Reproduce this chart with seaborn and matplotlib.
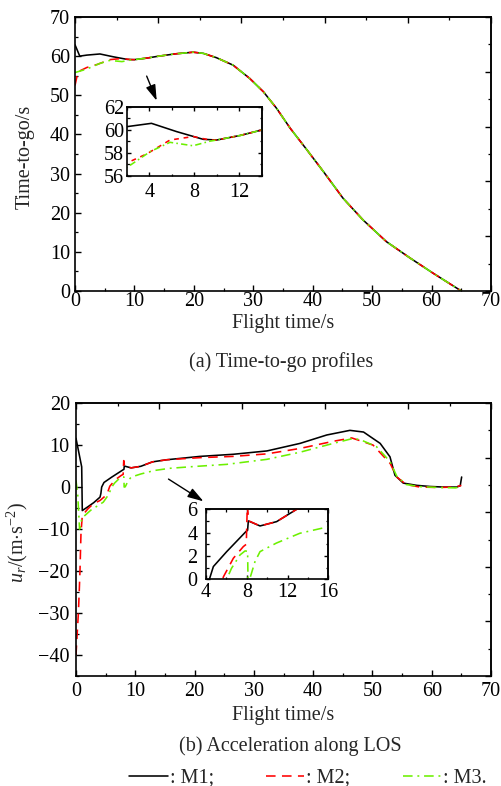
import matplotlib
matplotlib.use("Agg")
import matplotlib.pyplot as plt
import seaborn as sns
import numpy as np
import pandas as pd
from matplotlib.ticker import MultipleLocator, FixedLocator, NullFormatter
from matplotlib.lines import Line2D

# ---------------- data: (a) time-to-go ----------------
tgo_tail_t = [10, 12.1, 14, 17, 19.9, 21.6, 23.8, 26.6, 29.4, 31.7, 33.9, 36.2,
              39.0, 41.8, 45.1, 48.5, 52.4, 56.4, 60.3, 65.0]
tgo_tail_v = [59.1, 59.5, 59.97, 60.6, 61.0, 60.7, 59.6, 57.7, 54.3, 50.9, 46.7, 41.6,
              36.1, 30.5, 23.7, 18.1, 12.6, 8.4, 4.5, 0.0]
tgo_m1_head_t = [0, 0.8, 2, 4.2, 6.44, 8.8]
tgo_m1_head_v = [62.9, 60.0, 60.26, 60.55, 59.83, 59.16]
tgo_m2_head_t = [0, 0.5, 2, 3.8, 5.85, 7.9, 9.4]
tgo_m2_head_v = [52.5, 56.0, 57.1, 57.9, 59.1, 59.4, 59.1]
tgo_m3_head_t = [0, 2, 4.1, 5.85, 7.9, 9.4]
tgo_m3_head_v = [55.8, 56.7, 58.1, 58.9, 58.6, 59.0]

# ---------------- data: (b) acceleration along LOS ----------------
acc_m1_t = [0, 0.96, 1.06, 2.0, 3.0, 4.05, 4.2, 4.33, 4.72, 6.03, 7.92, 8.08, 8.15,
            9.3, 10.93, 12.9, 15.3, 20.9, 26.5, 32.2, 37.8, 42.3, 46.2, 48.5, 51.3,
            52.96, 53.8, 55.2, 57.5, 59.7, 62, 64.2, 64.8, 65.05]
acc_m1_v = [11.6, 4.8, -5.6, -4.7, -3.7, -2.4, -1.5, 0.0, 1.09, 2.37, 4.09, 4.2, 5.0,
            4.57, 4.94, 6.0, 6.5, 7.3, 7.8, 8.6, 10.4, 12.4, 13.5, 13.1, 10.4,
            7.2, 2.8, 0.94, 0.4, 0.14, 0.0, 0.0, 0.3, 2.4]
acc_m2_t = [0, 0.4, 0.55, 0.67, 0.84, 1.06, 2.0, 2.9, 4.05, 5.2, 5.7, 6.68, 7.66, 7.95,
            8.05, 8.2, 9.3, 10.93, 12.9, 15.3, 20.9, 26.5, 32.2, 37.8, 43.4, 46.5,
            50.1, 53.0, 54.1, 55.7, 58, 61, 64, 65]
acc_m2_v = [-40, -30, -24.7, -20, -11, -6.8, -5.2, -4.0, -3.2, -1.8, 0.2, 1.8, 2.8, 3.0,
            6.3, 5.0, 4.57, 4.94, 6.0, 6.5, 7.0, 7.3, 7.9, 9.2, 10.9, 11.7,
            10.0, 5.6, 2.4, 0.6, 0.0, -0.1, 0.0, 0.4]
acc_m3_t = [0, 0.3, 0.6, 1.0, 2.5, 4.6, 5.5, 6.03, 6.5, 7.34, 7.83, 8.08, 8.12, 8.3,
            8.8, 9.3, 10.9, 13.2, 15.8, 20, 25.4, 32.2, 37.8, 43.4, 46.8, 48.1, 50.7,
            53, 54.1, 55.7, 58, 61, 64, 65]
acc_m3_v = [1.6, -2.0, -10.0, -7.4, -5.5, -3.6, -1.8, 0.0, 0.94, 2.09, 2.43, 2.4, 0.0, 0.05,
            1.5, 2.37, 3.1, 3.94, 4.46, 4.9, 5.4, 6.6, 8.3, 10.4, 11.6, 11.2, 9.6,
            6.0, 2.6, 0.6, 0.1, -0.1, -0.2, 0.1]

labels = [": M1;", ": M2;", ": M3."]
caption_a = "(a) Time-to-go profiles"
caption_b = "(b) Acceleration along LOS"

# ---------------- style ----------------
sns.set_theme(style="ticks")
plt.rcParams["font.family"] = ["Liberation Serif", "DejaVu Serif"]
plt.rcParams["mathtext.fontset"] = "custom"
plt.rcParams["mathtext.rm"] = "Liberation Serif"
plt.rcParams["mathtext.it"] = "Liberation Serif:italic"
FS = 14.5
LW = 1.15
C1, C2, C3 = "black", "#ff0000", "#6cf000"
DASH2 = (6, 4)
DASH3 = (6, 3, 1.2, 3)

fig = plt.figure(figsize=(5.02, 7.86), dpi=100)
fig.patch.set_facecolor("white")

m1_tgo_t = tgo_m1_head_t + tgo_tail_t
m1_tgo_v = tgo_m1_head_v + tgo_tail_v
m2_tgo_t = tgo_m2_head_t + tgo_tail_t
m2_tgo_v = tgo_m2_head_v + tgo_tail_v
m3_tgo_t = tgo_m3_head_t + tgo_tail_t
m3_tgo_v = tgo_m3_head_v + tgo_tail_v


def draw(ax, series):
    for (t, v, col, dash) in series:
        sns.lineplot(x=t, y=v, ax=ax, color=col, lw=LW, estimator=None, sort=False,
                     legend=False)
        ln = ax.lines[-1]
        if dash is not None:
            ln.set_dashes(dash)


def style_axes(ax, xpad, ypad, major_len=4.3, minor_len=2.2, lw=1.2):
    ax.set_facecolor("white")
    for s in ax.spines.values():
        s.set_visible(True)
        s.set_color("black")
        s.set_linewidth(lw)
    ax.grid(False)
    ax.tick_params(which="both", direction="in", colors="black", top=False, right=False,
                   labelsize=FS)
    ax.tick_params(which="major", length=major_len, width=1.0)
    ax.tick_params(which="minor", length=minor_len, width=0.9)
    ax.tick_params(axis="x", which="both", pad=xpad)
    ax.tick_params(axis="y", which="both", pad=ypad)


def add_top_right(ax, xmaj, xmin, ymaj, ymin, major_len=4.3, minor_len=2.2):
    sx = ax.secondary_xaxis("top")
    sx.xaxis.set_major_locator(FixedLocator(xmaj))
    sx.xaxis.set_minor_locator(FixedLocator(xmin))
    sx.xaxis.set_major_formatter(NullFormatter())
    sx.tick_params(which="both", direction="in", colors="black")
    sx.tick_params(which="major", length=major_len, width=1.0)
    sx.tick_params(which="minor", length=minor_len, width=0.9)
    sx.spines["top"].set_linewidth(1.2)
    sy = ax.secondary_yaxis("right")
    sy.yaxis.set_major_locator(FixedLocator(ymaj))
    sy.yaxis.set_minor_locator(FixedLocator(ymin))
    sy.yaxis.set_major_formatter(NullFormatter())
    sy.tick_params(which="both", direction="in", colors="black")
    sy.tick_params(which="major", length=major_len, width=1.0)
    sy.tick_params(which="minor", length=minor_len, width=0.9)
    sy.spines["right"].set_linewidth(1.2)


# ================= (a) =================
axa = fig.add_axes([0.1494, 0.6298, 0.8287, 0.3486])
draw(axa, [(m1_tgo_t, m1_tgo_v, C1, None), (m2_tgo_t, m2_tgo_v, C2, DASH2),
           (m3_tgo_t, m3_tgo_v, C3, DASH3)])
axa.set_xlim(0, 70)
axa.set_ylim(0, 70)
axa.xaxis.set_major_locator(MultipleLocator(10))
axa.xaxis.set_minor_locator(MultipleLocator(5))
axa.yaxis.set_major_locator(MultipleLocator(10))
axa.yaxis.set_minor_locator(MultipleLocator(5))
style_axes(axa, xpad=1.0, ypad=3.5)
add_top_right(axa, np.arange(0, 71, 14), np.arange(7, 71, 14),
              np.arange(0, 71, 14), np.arange(7, 71, 14))
axa.set_xlabel("Flight time/s", fontsize=FS)
axa.set_ylabel("Time-to-go/s", fontsize=FS)
axa.xaxis.label.set_va("center")
axa.yaxis.label.set_va("center")
axa.xaxis.set_label_coords(0.5, -0.12)
axa.yaxis.set_label_coords(-0.12, 0.49)
axa.annotate("", xy=(13.75, 48.6), xytext=(12.06, 54.9),
             arrowprops=dict(arrowstyle="-|>,head_length=0.8,head_width=0.25",
                             color="black", lw=1.0, shrinkA=0, shrinkB=0))
fig.text(281 / 502, 1 - 362 / 786, caption_a, ha="center", va="center", fontsize=FS)

# inset (a)
ia = fig.add_axes([0.2524, 0.7765, 0.2689, 0.0878])
draw(ia, [(m1_tgo_t, m1_tgo_v, C1, None), (m2_tgo_t, m2_tgo_v, C2, (3, 3)),
          (m3_tgo_t, m3_tgo_v, C3, (4, 2, 1, 2))])
ia.set_xlim(2, 14)
ia.set_ylim(56, 62)
ia.xaxis.set_major_locator(FixedLocator([4, 8, 12]))
ia.xaxis.set_minor_locator(FixedLocator([2, 6, 10, 14]))
ia.yaxis.set_major_locator(MultipleLocator(2))
ia.yaxis.set_minor_locator(MultipleLocator(1))
style_axes(ia, xpad=5.0, ypad=2.0, major_len=3, minor_len=1.8)
add_top_right(ia, [4, 8, 12], [2, 6, 10, 14], [56, 58, 60, 62], [57, 59, 61],
              major_len=3, minor_len=1.8)
ia.set_xlabel("")
ia.set_ylabel("")

# ================= (b) =================
axb = fig.add_axes([0.1514, 0.1399, 0.8267, 0.3473])
draw(axb, [(acc_m1_t, acc_m1_v, C1, None), (acc_m2_t, acc_m2_v, C2, DASH2),
           (acc_m3_t, acc_m3_v, C3, DASH3)])
axb.set_xlim(0, 70)
axb.set_ylim(-45, 20)
axb.xaxis.set_major_locator(MultipleLocator(10))
axb.xaxis.set_minor_locator(MultipleLocator(5))
axb.yaxis.set_major_locator(MultipleLocator(10))
axb.yaxis.set_minor_locator(MultipleLocator(5))
style_axes(axb, xpad=4.0, ypad=4.5)
add_top_right(axb, np.arange(0, 71, 14), np.arange(7, 71, 14),
              np.arange(-45, 20.1, 13), np.arange(-38.5, 20, 13))
axb.set_xlabel("Flight time/s", fontsize=FS)
axb.set_ylabel(r"$u_r$/(m$\cdot$s$^{-2}$)", fontsize=FS)
axb.xaxis.label.set_va("center")
axb.yaxis.label.set_va("center")
axb.xaxis.set_label_coords(0.5, -0.146)
axb.yaxis.set_label_coords(-0.142, 0.49)
axb.annotate("", xy=(21.5, -3.4), xytext=(15.6, 1.9),
             arrowprops=dict(arrowstyle="-|>,head_length=0.8,head_width=0.25",
                             color="black", lw=1.0, shrinkA=0, shrinkB=0))
fig.text(290.5 / 502, 1 - 746 / 786, caption_b, ha="center", va="center", fontsize=FS)

# inset (b)
ib = fig.add_axes([0.4104, 0.2630, 0.2436, 0.0891])
draw(ib, [(acc_m1_t, acc_m1_v, C1, None), (acc_m2_t, acc_m2_v, C2, DASH2),
          (acc_m3_t, acc_m3_v, C3, DASH3)])
ib.set_xlim(4, 16)
ib.set_ylim(0, 6)
ib.xaxis.set_major_locator(FixedLocator([4, 8, 12, 16]))
ib.xaxis.set_minor_locator(FixedLocator([6, 10, 14]))
ib.yaxis.set_major_locator(MultipleLocator(2))
ib.yaxis.set_minor_locator(MultipleLocator(1))
style_axes(ib, xpad=3.0, ypad=6.0, major_len=3, minor_len=1.8)
add_top_right(ib, [4, 8, 12, 16], [6, 10, 14], [0, 2, 4, 6], [1, 3, 5],
              major_len=3, minor_len=1.8)
ib.set_xlabel("")
ib.set_ylabel("")

# ================= legend =================
handles = [Line2D([], [], color=C1, lw=LW),
           Line2D([], [], color=C2, lw=LW, dashes=DASH2),
           Line2D([], [], color=C3, lw=LW, dashes=DASH3)]
fig.legend(handles, labels, ncol=3, loc="center", bbox_to_anchor=(308 / 502, 1 - 778 / 786),
           frameon=False, fontsize=FS, handlelength=1.9, handletextpad=0.1,
           columnspacing=2.6, borderpad=0, borderaxespad=0)

fig.savefig("out.png", dpi=100, facecolor="white")
